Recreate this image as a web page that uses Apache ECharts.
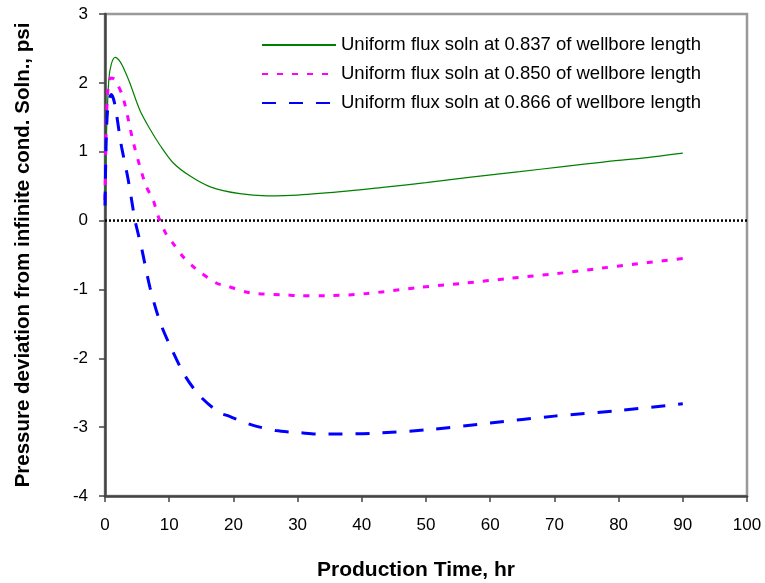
<!DOCTYPE html>
<html>
<head>
<meta charset="utf-8">
<script src="https://cdn.jsdelivr.net/npm/echarts@6/dist/echarts.min.js"></script>
<style>
html,body{margin:0;padding:0;background:#fff;}
#chart{width:765px;height:583px;}
</style>
</head>
<body>
<div id="chart"></div>
<script>
// ---- Data ----
var seriesNames = [
  'Uniform flux soln at 0.837 of wellbore length',
  'Uniform flux soln at 0.850 of wellbore length',
  'Uniform flux soln at 0.866 of wellbore length'
];
var timeGreen = [0, 0.25, 0.6, 1.0, 1.6, 2.4, 3.2, 3.9, 5.45, 7.0, 8.6, 10.6, 13.2, 16.4, 21, 25.2, 30, 38, 44, 50, 57, 64.6, 71, 77.6, 84, 90];
var devGreen  = [0.3, 1.3, 2.05, 2.28, 2.37, 2.3, 2.15, 1.99, 1.6, 1.33, 1.09, 0.84, 0.65, 0.49, 0.39, 0.36, 0.37, 0.43, 0.49, 0.55, 0.63, 0.71, 0.78, 0.85, 0.91, 0.98];

var timeMagenta = [0, 0.2, 0.5, 0.9, 1.5, 2.8, 4.4, 5.7, 6.5, 7.5, 8.3, 9.6, 10.6, 12.2, 13.75, 14.8, 17.4, 19, 22.6, 28.3, 30, 34.5, 40.8, 49, 55.8, 63, 70.4, 77.4, 84.6, 90];
var devMagenta  = [0.3, 1.4, 1.95, 2.07, 2.05, 1.79, 1.14, 0.7, 0.48, 0.3, 0.06, -0.21, -0.33, -0.53, -0.67, -0.75, -0.91, -0.95, -1.05, -1.08, -1.09, -1.09, -1.06, -0.97, -0.91, -0.84, -0.77, -0.69, -0.61, -0.55];

var timeBlue = [0, 0.2, 0.5, 1.0, 1.5, 2.3, 2.6, 3.6, 4.4, 4.7, 5.7, 7.0, 8.6, 10.4, 12.5, 14.8, 17.8, 19, 22.6, 26.6, 30.4, 33, 36.7, 41.4, 50, 60, 70, 80, 90];
var devBlue  = [0.22, 1.2, 1.7, 1.83, 1.7, 1.23, 1.06, 0.6, 0.15, -0.01, -0.4, -0.97, -1.48, -1.87, -2.26, -2.55, -2.79, -2.83, -2.96, -3.05, -3.08, -3.1, -3.1, -3.09, -3.04, -2.94, -2.84, -2.76, -2.66];

var zeroLineTime = [0, 100];
var zeroLineDev = [0, 0];

var xTitle = 'Production Time, hr';
var yTitle = 'Pressure deviation from infinite cond. Soln., psi';

function pairs(xs, ys) { return xs.map(function (x, i) { return [x, ys[i]]; }); }

var FONT = 'Liberation Sans, Arial, sans-serif';
var chart = echarts.init(document.getElementById('chart'), null, {renderer: 'canvas'});
chart.setOption({
  animation: false,
  backgroundColor: '#fff',
  grid: {left: 105, right: 18, top: 14, bottom: 87, containLabel: false, outerBoundsMode: 'none',
         show: true, borderColor: '#999', borderWidth: 2.5, backgroundColor: 'transparent'},
  legend: {
    data: seriesNames,
    orient: 'vertical',
    left: 256, top: 30,
    itemWidth: 74, itemHeight: 20, itemGap: 9,
    itemStyle: {opacity: 0},
    textStyle: {fontFamily: FONT, fontSize: 18.5, lineHeight: 20, color: '#000'}
  },
  xAxis: {
    type: 'value', min: 0, max: 100, interval: 10,
    name: xTitle, nameLocation: 'middle', nameGap: 64,
    nameTextStyle: {fontFamily: FONT, fontSize: 21, fontWeight: 'bold', color: '#000', padding: [0, 20, 0, 0]},
    axisLine: {show: true, onZero: false, lineStyle: {color: '#444', width: 2.5}},
    axisTick: {show: true, inside: false, length: 6, lineStyle: {color: '#444', width: 1.5}},
    axisLabel: {fontFamily: FONT, fontSize: 17, color: '#000', margin: 21},
    splitLine: {show: false}
  },
  yAxis: {
    type: 'value', min: -4, max: 3, interval: 1,
    name: yTitle, nameLocation: 'middle', nameGap: 71, nameRotate: 90,
    nameTextStyle: {fontFamily: FONT, fontSize: 20.5, fontWeight: 'bold', color: '#000'},
    axisLine: {show: true, onZero: false, lineStyle: {color: '#444', width: 2.5}},
    axisTick: {show: true, inside: false, length: 6, lineStyle: {color: '#444', width: 1.5}},
    axisLabel: {fontFamily: FONT, fontSize: 17, color: '#000', margin: 17},
    splitLine: {show: false}
  },
  series: [
    {
      name: 'zero', type: 'line', data: pairs(zeroLineTime, zeroLineDev),
      symbol: 'none', silent: true, z: 1,
      lineStyle: {color: '#000', width: 2.5, type: [2, 2]}
    },
    {
      name: seriesNames[0], type: 'line', data: pairs(timeGreen, devGreen),
      symbol: 'none', smooth: 0.3, z: 3,
      itemStyle: {color: '#008000'},
      lineStyle: {color: '#008000', width: 1.2, type: 'solid'}
    },
    {
      name: seriesNames[1], type: 'line', data: pairs(timeMagenta, devMagenta),
      symbol: 'none', smooth: 0.3, z: 3,
      itemStyle: {color: '#FF00FF'},
      lineStyle: {color: '#FF00FF', width: 3, type: [6, 9]}
    },
    {
      name: seriesNames[2], type: 'line', data: pairs(timeBlue, devBlue),
      symbol: 'none', smooth: 0.3, z: 3,
      itemStyle: {color: '#0000FF'},
      lineStyle: {color: '#0000FF', width: 3, type: [14, 13]}
    }
  ]
});
</script>
</body>
</html>
